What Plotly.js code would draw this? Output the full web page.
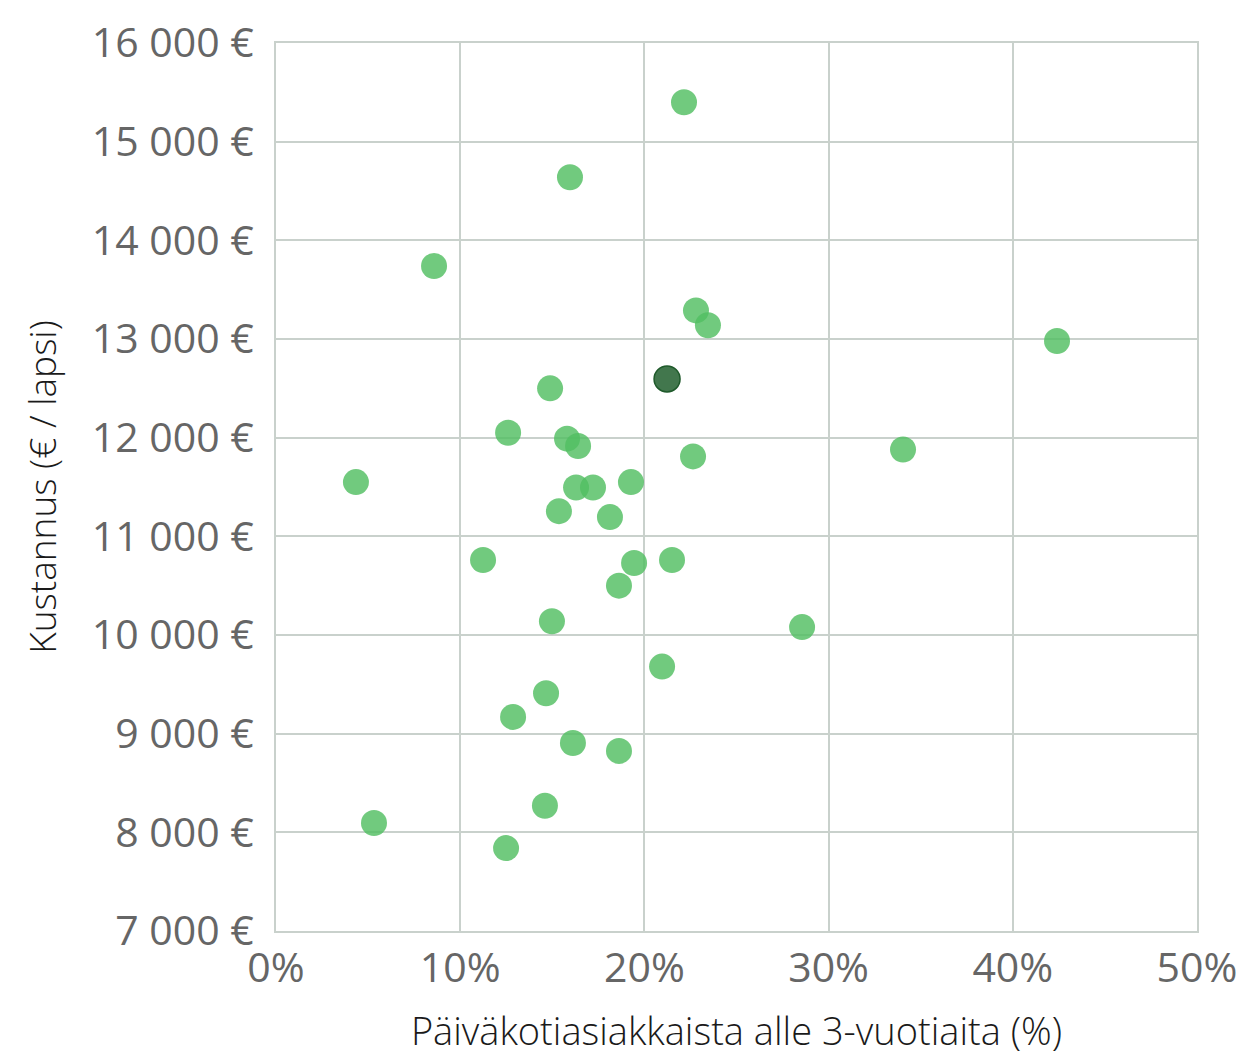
<!DOCTYPE html>
<html>
<head>
<meta charset="utf-8">
<script src="https://cdn.plot.ly/plotly-3.0.1.min.js"></script>
<style>html,body{margin:0;padding:0;background:#fff;}#chart{width:1241px;height:1056px;}</style>
</head>
<body>
<div id="chart"></div>
<script>
// Share of daycare clients under 3 years (%) and cost per child (€)
const osuus = [22.15, 15.96, 8.58, 22.8, 23.45, 42.4, 14.88, 12.6, 15.8, 16.4, 34.04, 22.64, 4.34, 19.27, 16.29, 17.21, 15.36, 18.13, 11.24, 21.5, 19.44, 18.62, 14.98, 28.56, 20.96, 14.66, 12.87, 16.12, 18.62, 14.6, 5.32, 12.49];
const kustannus = [15400, 14640, 13740, 13290, 13140, 12980, 12500, 12050, 11990, 11915, 11880, 11810, 11550, 11550, 11495, 11495, 11255, 11195, 10760, 10760, 10730, 10500, 10140, 10080, 9680, 9410, 9170, 8905, 8825, 8270, 8095, 7840];
// Highlighted municipality
const korostusOsuus = [21.23];
const korostusKustannus = [12595];

const xTicks = [0, 10, 20, 30, 40, 50];
const xTickLabels = ['0%', '10%', '20%', '30%', '40%', '50%'];
const yTicks = [7000, 8000, 9000, 10000, 11000, 12000, 13000, 14000, 15000, 16000];
const yTickLabels = ['7 000 €', '8 000 €', '9 000 €', '10 000 €', '11 000 €', '12 000 €', '13 000 €', '14 000 €', '15 000 €', '16 000 €'];

const gridColor = '#c9d1cc';
const fontFam = '"Open Sans", "Noto Sans", sans-serif';
const traces = [
  {
    x: osuus, y: kustannus, type: 'scatter', mode: 'markers',
    marker: {size: 26, color: 'rgba(82,190,98,0.82)', line: {width: 0}},
    hoverinfo: 'x+y'
  },
  {
    x: korostusOsuus, y: korostusKustannus, type: 'scatter', mode: 'markers',
    marker: {size: 26, color: 'rgba(40,100,52,0.88)', line: {width: 1.5, color: '#1f5a2b'}},
    hoverinfo: 'x+y'
  }
];

const layout = {
  width: 1241, height: 1056,
  margin: {l: 276, r: 44, t: 43, b: 125},
  paper_bgcolor: '#ffffff', plot_bgcolor: '#ffffff',
  showlegend: false,
  font: {family: fontFam, color: '#666666'},
  xaxis: {
    range: [0, 50], tickmode: 'array', tickvals: xTicks, ticktext: xTickLabels,
    showgrid: true, gridcolor: gridColor, gridwidth: 2,
    zeroline: false, showline: true, linecolor: gridColor, linewidth: 2, mirror: true,
    ticks: '', tickfont: {size: 41, color: '#666666'},
    title: {text: 'Päiväkotiasiakkaista alle 3-vuotiaita (%)', standoff: 27,
            font: {size: 38, color: '#1a1a1a', family: fontFam, weight: 300}}
  },
  yaxis: {
    range: [7000, 16000], tickmode: 'array', tickvals: yTicks, ticktext: yTickLabels,
    showgrid: true, gridcolor: gridColor, gridwidth: 2,
    zeroline: false, showline: true, linecolor: gridColor, linewidth: 2, mirror: true,
    ticks: '', ticklabelstandoff: 12, tickfont: {size: 41, color: '#666666'},
    title: {text: 'Kustannus (€ / lapsi)', standoff: 24,
            font: {size: 37, color: '#1a1a1a', family: fontFam, weight: 300}}
  }
};

Plotly.newPlot('chart', traces, layout, {displayModeBar: false, staticPlot: true});
</script>
</body>
</html>
